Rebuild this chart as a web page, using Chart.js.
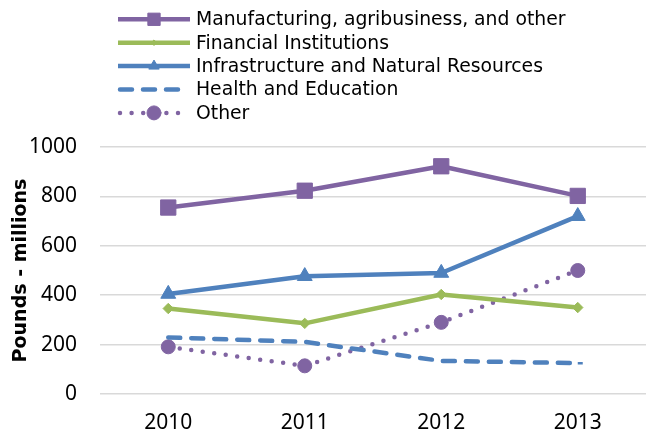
<!DOCTYPE html>
<html>
<head>
<meta charset="utf-8">
<script src="https://cdn.jsdelivr.net/npm/chart.js@4.4.1/dist/chart.umd.min.js"></script>
<style>
html,body{margin:0;padding:0;background:#fff;}
#wrap{width:646px;height:436px;position:relative;}
</style>
</head>
<body>
<div id="wrap"><canvas id="c" width="646" height="436"></canvas></div>
<script>
const categories = ['2010', '2011', '2012', '2013'];
const manufacturing = [755, 823, 922, 802];
const financial = [346, 286, 403, 350];
const infrastructure = [405, 477, 490, 720];
const healthEducation = [229, 211, 134, 125];
const other = [191, 114, 290, 500];
const seriesNames = ['Manufacturing, agribusiness, and other', 'Financial Institutions', 'Infrastructure and Natural Resources', 'Health and Education', 'Other'];
const yTicks = [0, 200, 400, 600, 800, 1000];

const PURPLE = '#8064A2', GREEN = '#9BBB59', BLUE = '#4F81BD';
const LEGEND_FONT = "'DejaVu Sans', sans-serif";
const TICK_FONT = "'Noto Sans', sans-serif";
const TITLE_FONT = "'DejaVu Sans', sans-serif";
const LEGEND_RADIUS = { rect: 8.7, rectRot: 2.8, triangle: 6, dash: 0, circle: 7 };

const legendPlugin = {
  id: 'customLegend',
  afterDraw(chart) {
    const ctx = chart.ctx;
    const x0 = 118, x1 = 190, tx = 196, y0 = 19.3, dy = 23.4;
    chart.data.datasets.forEach((ds, i) => {
      const y = y0 + i * dy;
      ctx.save();
      ctx.strokeStyle = ds.borderColor;
      ctx.lineWidth = ds.borderWidth;
      ctx.lineCap = ds.borderCapStyle || 'butt';
      ctx.setLineDash(ds.borderDash || []);
      ctx.beginPath();
      ctx.moveTo(x0 + (ds.borderCapStyle === 'round' ? 2 : 0), y);
      ctx.lineTo(x1 - (ds.borderCapStyle === 'round' ? 2 : 0), y);
      ctx.stroke();
      ctx.setLineDash([]);
      const r = LEGEND_RADIUS[ds.pointStyle];
      if (r > 0) {
        ctx.fillStyle = ds.pointBackgroundColor;
        ctx.strokeStyle = ds.pointBorderColor;
        ctx.lineWidth = 1;
        Chart.helpers.drawPoint(ctx, {pointStyle: ds.pointStyle, radius: r, rotation: 0, borderWidth: 1}, (x0 + x1) / 2, y);
      }
      ctx.fillStyle = '#000';
      ctx.font = '18.8px ' + LEGEND_FONT;
      ctx.textBaseline = 'middle';
      ctx.textAlign = 'left';
      ctx.fillText(ds.label, tx, y + 1);
      ctx.restore();
    });
  }
};

function series(label, data, color, style, radius, dash, cap, pbw) {
  return {
    label, data,
    borderColor: color,
    backgroundColor: color,
    pointBackgroundColor: color,
    pointBorderColor: color,
    pointStyle: style,
    pointRadius: radius,
    pointHoverRadius: radius,
    pointBorderWidth: pbw,
    borderWidth: 4.5,
    borderDash: dash,
    borderCapStyle: cap,
    borderJoinStyle: 'round',
    tension: 0,
    fill: false
  };
}

new Chart(document.getElementById('c'), {
  type: 'line',
  data: {
    labels: categories,
    datasets: [
      series(seriesNames[0], manufacturing, PURPLE, 'rect', 10.8, [], 'butt', 1),
      series(seriesNames[1], financial, GREEN, 'rectRot', 5.2, [], 'butt', 1),
      series(seriesNames[2], infrastructure, BLUE, 'triangle', 8.6, [], 'butt', 1),
      series(seriesNames[3], healthEducation, BLUE, 'dash', 5, [12, 11], 'round', 2.5),
      series(seriesNames[4], other, PURPLE, 'circle', 7, [0, 11.6], 'round', 1)
    ]
  },
  options: {
    responsive: false,
    animation: false,
    layout: { autoPadding: false, padding: { top: 147, left: 0, right: 0, bottom: 0 } },
    plugins: { legend: { display: false }, tooltip: { enabled: false } },
    scales: {
      x: {
        offset: true,
        afterFit: s => { s.height = 42; s.paddingLeft = 0; s.paddingRight = 0; },
        grid: { display: false, drawTicks: false },
        border: { display: false },
        ticks: { color: '#000', font: { family: TICK_FONT, size: 21 }, padding: 16 }
      },
      y: {
        min: 0, max: 1000,
        afterFit: s => { s.width = 100; },
        afterBuildTicks: s => { s.ticks = yTicks.map(v => ({ value: v })); },
        grid: { color: '#d9d9d9', lineWidth: 1.6, drawTicks: false },
        border: { display: false },
        ticks: { color: '#000', font: { family: TICK_FONT, size: 21 }, padding: 23, callback: v => String(v) },
        title: { display: true, text: 'Pounds - millions', color: '#000', font: { family: TITLE_FONT, size: 19, weight: 'bold' }, padding: { top: 10, bottom: 0 } }
      }
    }
  },
  plugins: [legendPlugin]
});
</script>
</body>
</html>
